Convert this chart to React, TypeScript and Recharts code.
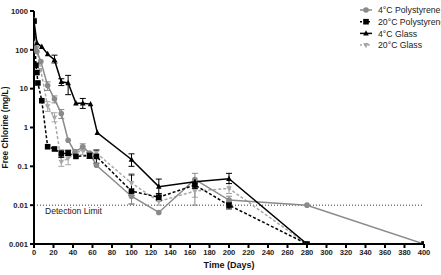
import { LineChart, Line, XAxis, YAxis, ErrorBar, ReferenceLine } from 'recharts';

// 4°C Polystyrene (grey circles, solid)
const ps4Days = [0, 1, 3, 7, 14, 21, 28, 35, 42, 50, 57, 64, 100, 128, 165, 200, 280, 400];
const ps4Vals = [550, 110, 90, 50, 12, 5.4, 2.3, 0.47, 0.23, 0.32, 0.22, 0.107, 0.017, 0.0065, 0.046, 0.0135, 0.01, 0.001];
const ps4Lo = [null, null, null, null, 9, 4.3, 1.7, null, 0.2, 0.26, null, null, 0.0105, null, 0.01, 0.011, null, null];
const ps4Hi = [null, null, null, null, 15, 6.5, 2.9, null, 0.27, 0.38, null, null, 0.022, null, 0.066, 0.017, null, null];

// 20°C Polystyrene (black squares, dashed)
const ps20Days = [0, 2, 3, 4, 8, 14, 21, 28, 35, 43, 57, 64, 100, 128, 165, 200, 280, 400];
const ps20Vals = [550, 40, 26, 14, 4.9, 0.32, 0.28, 0.21, 0.22, 0.18, 0.19, 0.18, 0.023, 0.016, 0.033, 0.01, 0.001, 0.001];
const ps20Lo = [null, null, null, null, null, null, null, 0.17, 0.19, null, 0.16, 0.12, 0.018, 0.013, 0.027, 0.008, null, null];
const ps20Hi = [null, null, null, null, null, null, null, 0.26, 0.26, null, 0.23, 0.26, 0.06, 0.02, 0.04, 0.012, null, null];

// 4°C Glass (black triangles, solid)
const gl4Days = [0, 3, 8, 14, 21, 28, 35, 43, 50, 58, 65, 100, 128, 165, 200, 280];
const gl4Vals = [550, 150, 120, 78, 55, 15, 14, 4.2, 4.2, 4.0, 0.73, 0.15, 0.03, 0.04, 0.048, 0.001];
const gl4Lo = [null, null, null, null, 46, 12, 7, null, 3.1, null, null, 0.1, 0.018, null, 0.036, null];
const gl4Hi = [null, null, null, null, 73, 18, 22, null, 5.6, null, null, 0.21, 0.047, null, 0.066, null];

// 20°C Glass (light grey down-triangles, dashed)
const gl20Days = [0, 1, 3, 7, 14, 21, 28, 35, 43, 50, 57, 64, 100, 128, 165, 200, 280, 400];
const gl20Vals = [600, 150, 110, 30, 3.5, 1.8, 0.13, 0.16, 0.23, 0.25, 0.21, 0.22, 0.037, 0.0125, 0.023, 0.027, 0.001, 0.001];
const gl20Lo = [null, null, null, null, 2.6, 1.4, 0.1, 0.11, null, 0.2, null, 0.17, 0.011, 0.01, 0.016, 0.02, null, null];
const gl20Hi = [null, null, null, null, 4.6, 2.4, 0.2, 0.22, null, 0.32, null, 0.27, 0.065, 0.016, 0.035, 0.036, null, null];

const xTicks = [0, 20, 40, 60, 80, 100, 120, 140, 160, 180, 200, 220, 240, 260, 280, 300, 320, 340, 360, 380, 400];
const yTicks = [0.001, 0.01, 0.1, 1, 10, 100, 1000];
const yTickLabels = ['0.001', '0.01', '0.1', '1', '10', '100', '1000'];

const seriesNames = ['4°C Polystyrene', '20°C Polystyrene', '4°C Glass', '20°C Glass'];

const GREY = '#8a8a8a';
const LIGHT = '#a8a8a8';
const BLACK = '#000000';
const FONT = 'Arial, "Liberation Sans", sans-serif';

function build(days: number[], vals: number[], lo: (number | null)[], hi: (number | null)[]) {
  return days.map((d, i) => ({
    x: d,
    y: vals[i],
    err: lo[i] == null || hi[i] == null ? null : [vals[i] - (lo[i] as number), (hi[i] as number) - vals[i]],
  }));
}

const ps4Data = build(ps4Days, ps4Vals, ps4Lo, ps4Hi);
const ps20Data = build(ps20Days, ps20Vals, ps20Lo, ps20Hi);
const gl4Data = build(gl4Days, gl4Vals, gl4Lo, gl4Hi);
const gl20Data = build(gl20Days, gl20Vals, gl20Lo, gl20Hi);

type Shape = 'circle' | 'square' | 'up' | 'down';

function marker(shape: Shape, cx: number, cy: number, fill: string, key?: string | number) {
  const s = 2.8;
  if (shape === 'circle') return <circle key={key} cx={cx} cy={cy} r={s} fill={fill} />;
  if (shape === 'square') return <rect key={key} x={cx - s} y={cy - s} width={s * 2} height={s * 2} fill={fill} />;
  if (shape === 'up')
    return <polygon key={key} points={`${cx},${cy - s - 0.4} ${cx - s},${cy + s - 0.6} ${cx + s},${cy + s - 0.6}`} fill={fill} />;
  return <polygon key={key} points={`${cx},${cy + s + 0.4} ${cx - s},${cy - s + 0.6} ${cx + s},${cy - s + 0.6}`} fill={fill} />;
}

const dotFor = (shape: Shape, fill: string) => (p: any) => {
  if (p.cx == null || p.cy == null) return <g key={p.index} />;
  return marker(shape, p.cx, p.cy, fill, p.index);
};

const legendItems: { name: string; shape: Shape; color: string; dash?: string }[] = [
  { name: seriesNames[0], shape: 'circle', color: GREY },
  { name: seriesNames[1], shape: 'square', color: BLACK, dash: '2 2' },
  { name: seriesNames[2], shape: 'up', color: BLACK },
  { name: seriesNames[3], shape: 'down', color: LIGHT, dash: '2 2' },
];

function LegendBox() {
  return (
    <svg width={81} height={50} style={{ position: 'absolute', left: 360, top: 6, overflow: 'hidden' }}>
      {legendItems.map((it, i) => {
        const y = 4 + i * 11.7;
        return (
          <g key={it.name}>
            <line x1={0} x2={12} y1={y} y2={y} stroke={it.color} strokeWidth={1.5} strokeDasharray={it.dash} />
            {marker(it.shape, 6, y, it.color)}
            <text x={18} y={y + 3.2} fontSize={8.7} fontFamily={FONT} fill="#222">
              {it.name}
            </text>
          </g>
        );
      })}
    </svg>
  );
}

const detectionLabel = (props: any) => {
  const vb = props.viewBox;
  return (
    <text x={vb.x + 11} y={vb.y + 8.5} fontSize={8.6} fontFamily={FONT} fill="#222">
      Detection Limit
    </text>
  );
};

export default function App() {
  return (
    <div style={{ position: 'absolute', left: 0, top: 0, width: 441, height: 275, background: '#fff' }}>
      <LineChart width={441} height={275} margin={{ top: 11, right: 17, left: 0, bottom: 0 }}>
        <XAxis
          type="number"
          dataKey="x"
          domain={[0, 400]}
          ticks={xTicks}
          allowDataOverflow
          height={31}
          stroke="#000"
          strokeWidth={2}
          tickSize={4}
          tick={{ fontSize: 7.6, fontWeight: 700, fontFamily: FONT, fill: '#222' }}
          label={{ value: 'Time (Days)', position: 'insideBottom', offset: 7, style: { fontSize: 9, fontWeight: 700, fontFamily: FONT, fill: '#111' } }}
        />
        <YAxis
          type="number"
          scale="log"
          domain={[0.001, 1000]}
          ticks={yTicks}
          allowDataOverflow
          width={34}
          stroke="#000"
          strokeWidth={2}
          tickSize={4}
          tickFormatter={(v: number) => yTickLabels[yTicks.indexOf(v)] ?? String(v)}
          tick={{ fontSize: 7.6, fontWeight: 700, fontFamily: FONT, fill: '#222' }}
          label={{ value: 'Free Chlorine (mg/L)', angle: -90, position: 'insideLeft', offset: 5, style: { fontSize: 8.4, fontWeight: 700, fontFamily: FONT, fill: '#111', textAnchor: 'middle' } }}
        />
        <ReferenceLine y={0.01} stroke="#333" strokeDasharray="1 2" strokeWidth={1} label={detectionLabel} />
        <Line data={gl20Data} dataKey="y" name={seriesNames[3]} stroke={LIGHT} strokeWidth={1.5} strokeDasharray="3 2" dot={dotFor('down', LIGHT)} isAnimationActive={false}>
          <ErrorBar dataKey="err" direction="y" width={3} stroke={LIGHT} strokeWidth={1} />
        </Line>
        <Line data={ps4Data} dataKey="y" name={seriesNames[0]} stroke={GREY} strokeWidth={1.5} dot={dotFor('circle', GREY)} isAnimationActive={false}>
          <ErrorBar dataKey="err" direction="y" width={3} stroke={GREY} strokeWidth={1} />
        </Line>
        <Line data={ps20Data} dataKey="y" name={seriesNames[1]} stroke={BLACK} strokeWidth={1.5} strokeDasharray="3 2" dot={dotFor('square', BLACK)} isAnimationActive={false}>
          <ErrorBar dataKey="err" direction="y" width={3} stroke={BLACK} strokeWidth={1} />
        </Line>
        <Line data={gl4Data} dataKey="y" name={seriesNames[2]} stroke={BLACK} strokeWidth={1.5} dot={dotFor('up', BLACK)} isAnimationActive={false}>
          <ErrorBar dataKey="err" direction="y" width={3} stroke={BLACK} strokeWidth={1} />
        </Line>
      </LineChart>
      <LegendBox />
    </div>
  );
}
